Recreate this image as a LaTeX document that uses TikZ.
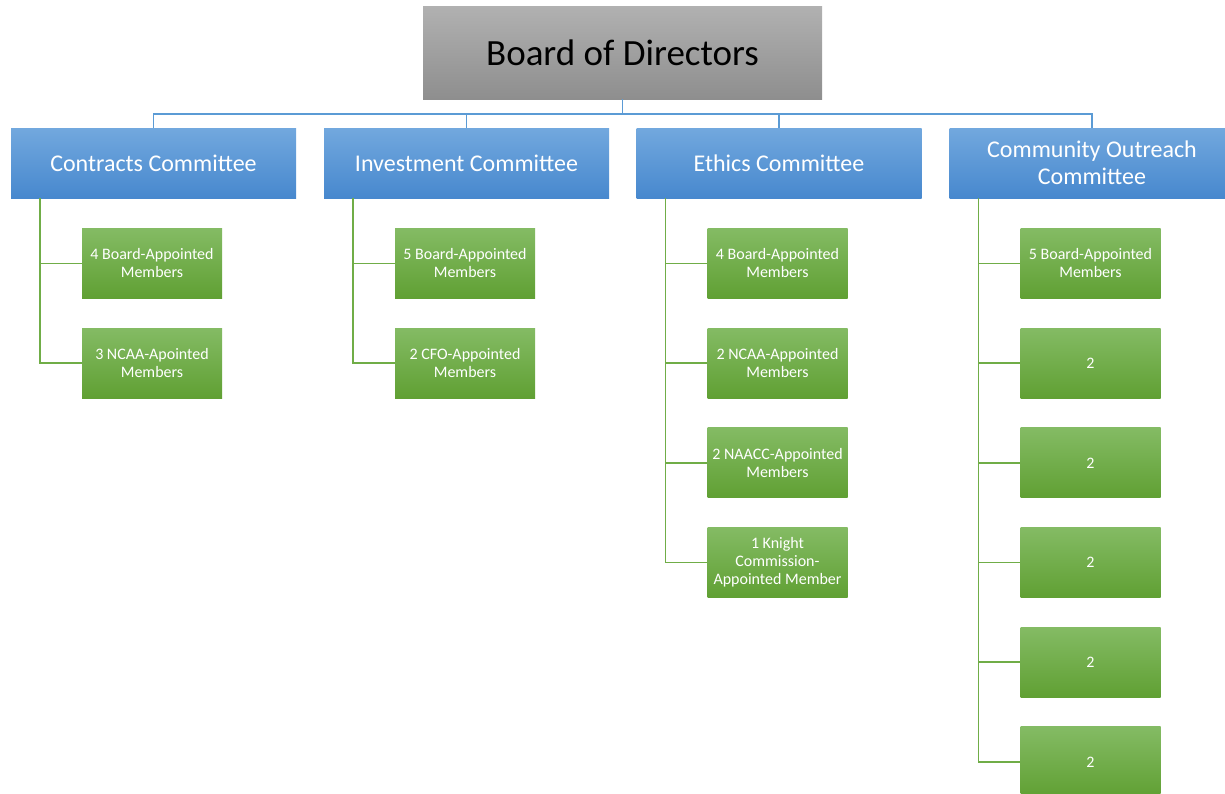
\documentclass[tikz,border=0pt]{standalone}
\usepackage{fontspec}
\setmainfont{Carlito}
\usetikzlibrary{positioning}
\usepackage{xcolor}
\definecolor{boardtop}{HTML}{B1B1B1}
\definecolor{boardbot}{HTML}{8E8E8E}
\definecolor{comtop}{HTML}{72A8DE}
\definecolor{combot}{HTML}{4788CE}
\definecolor{memtop}{HTML}{84BB64}
\definecolor{membot}{HTML}{60A033}
\definecolor{busline}{HTML}{5B9BD5}
\definecolor{memline}{HTML}{70AD47}

\tikzset{
  board/.style={top color=boardtop, bottom color=boardbot, minimum width=399pt,
    minimum height=93pt, inner sep=0pt, font=\fontsize{37}{43}\selectfont},
  committee/.style={top color=comtop, bottom color=combot, text=white,
    minimum width=285pt, minimum height=70pt, inner sep=0pt, align=center,
    font=\fontsize{24}{27}\selectfont},
  member/.style={top color=memtop, bottom color=membot, text=white,
    minimum width=140pt, minimum height=70pt, inner sep=0pt, align=center,
    font=\fontsize{16}{18}\selectfont},
  bline/.style={busline, line width=1.5pt},
  gline/.style={memline, line width=1.5pt}
}

\begin{document}
\begin{tikzpicture}[x=1pt,y=-1pt]
  \useasboundingbox (0,0) rectangle (1225,793);

  % top of the chart
  \node[board] (board) at (622.5,52.5) {Board of Directors};

  % committees
  \node[committee] (contracts) at (153.5,163) {Contracts Committee};
  \node[committee] (invest) at (466.5,163) {Investment Committee};
  \node[committee] (ethics) at (779,163) {Ethics Committee};
  \node[committee] (outreach) at (1092,163) {Community Outreach\\Committee};

  \coordinate (bus) at ([yshift=-15pt]board.south);
  \draw[bline] (board.south) -- (bus);
  \draw[bline] (bus) -| (contracts.north);
  \draw[bline] (bus) -| (invest.north);
  \draw[bline] (bus) -| (ethics.north);
  \draw[bline] (bus) -| (outreach.north);

  % contracts
  \node[member, anchor=north west] (contracts1) at ([xshift=71pt,yshift=-30pt]contracts.south west) {4 Board-Appointed\\Members};
  \node[member, below=29.3pt of contracts1] (contracts2) {3 NCAA-Apointed\\Members};
  \draw[gline] ([xshift=29pt]contracts.south west) |- (contracts1.west);
  \draw[gline] ([xshift=29pt]contracts.south west) |- (contracts2.west);

  % investment
  \node[member, anchor=north west] (invest1) at ([xshift=71pt,yshift=-30pt]invest.south west) {5 Board-Appointed\\Members};
  \node[member, below=29.3pt of invest1] (invest2) {2 CFO-Appointed\\Members};
  \draw[gline] ([xshift=29pt]invest.south west) |- (invest1.west);
  \draw[gline] ([xshift=29pt]invest.south west) |- (invest2.west);

  % ethics
  \node[member, anchor=north west] (ethics1) at ([xshift=71pt,yshift=-30pt]ethics.south west) {4 Board-Appointed\\Members};
  \node[member, below=29.3pt of ethics1] (ethics2) {2 NCAA-Appointed\\Members};
  \node[member, below=29.3pt of ethics2] (ethics3) {2 NAACC-Appointed\\Members};
  \node[member, below=29.3pt of ethics3] (ethics4) {1 Knight\\Commission-\\Appointed Member};
  \draw[gline] ([xshift=29pt]ethics.south west) |- (ethics1.west);
  \draw[gline] ([xshift=29pt]ethics.south west) |- (ethics2.west);
  \draw[gline] ([xshift=29pt]ethics.south west) |- (ethics3.west);
  \draw[gline] ([xshift=29pt]ethics.south west) |- (ethics4.west);

  % community outreach
  \node[member, anchor=north west] (outreach1) at ([xshift=71pt,yshift=-30pt]outreach.south west) {5 Board-Appointed\\Members};
  \node[member, below=29.3pt of outreach1] (outreach2) {2};
  \node[member, below=29.3pt of outreach2] (outreach3) {2};
  \node[member, below=29.3pt of outreach3] (outreach4) {2};
  \node[member, below=29.3pt of outreach4] (outreach5) {2};
  \node[member, below=29.3pt of outreach5] (outreach6) {2};
  \draw[gline] ([xshift=29pt]outreach.south west) |- (outreach1.west);
  \draw[gline] ([xshift=29pt]outreach.south west) |- (outreach2.west);
  \draw[gline] ([xshift=29pt]outreach.south west) |- (outreach3.west);
  \draw[gline] ([xshift=29pt]outreach.south west) |- (outreach4.west);
  \draw[gline] ([xshift=29pt]outreach.south west) |- (outreach5.west);
  \draw[gline] ([xshift=29pt]outreach.south west) |- (outreach6.west);
\end{tikzpicture}
\end{document}
